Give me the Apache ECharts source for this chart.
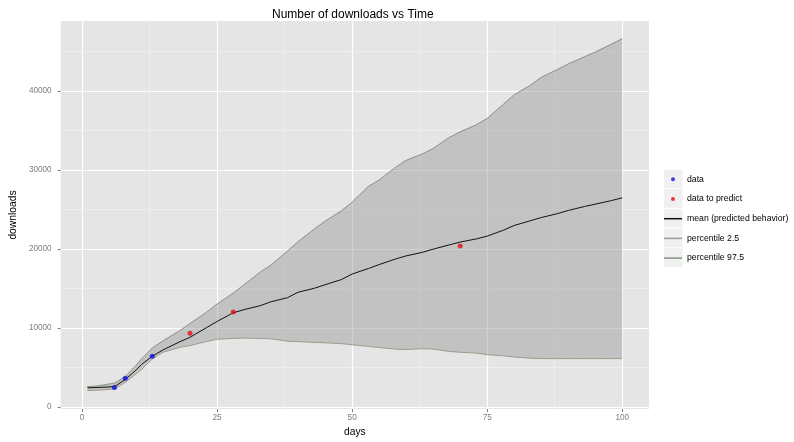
<!DOCTYPE html>
<html><head><meta charset="utf-8">
<script src="https://cdn.jsdelivr.net/npm/echarts@6/dist/echarts.min.js"></script>
<style>html,body{margin:0;padding:0;background:#fff}#c{width:794px;height:442px}</style>
</head><body><div id="c"></div>
<script>
const days    = [1,3,6,8,10,11,13,15,18,20,23,25,28,30,33,35,38,40,43,45,48,50,53,55,58,60,63,65,68,70,73,75,78,80,83,85,88,90,93,95,98,100];
const meanVals= [2400,2450,2550,3450,4650,5350,6400,7200,8200,8800,10000,10800,11900,12300,12800,13300,13800,14500,15000,15450,16100,16800,17500,18000,18700,19100,19550,19950,20500,20850,21250,21600,22350,22950,23550,23950,24450,24850,25350,25650,26100,26450];
const p025    = [2050,2100,2250,3100,4150,4700,6050,6900,7500,7750,8250,8550,8650,8700,8650,8600,8300,8250,8150,8100,8000,7850,7650,7500,7300,7250,7350,7300,7000,6900,6800,6600,6450,6300,6150,6100,6100,6100,6100,6100,6100,6100];
const p975    = [2550,2650,3000,3800,5250,6050,7450,8350,9600,10550,11950,13000,14400,15450,17050,17950,19700,20900,22500,23500,24800,25900,27900,28700,30300,31200,32000,32700,34100,34800,35700,36500,38300,39500,40700,41700,42700,43400,44300,44900,45900,46600];
const dataDays = [6,8,13];
const dataVals = [2450,3600,6400];
const predDays = [20,28,70];
const predVals = [9300,12000,20350];
const xTicks = [0,25,50,75,100];
const xMinor = [12.5,37.5,62.5,87.5];
const yTicks = [0,10000,20000,30000,40000];
const yMinor = [5000,15000,25000,35000,45000];
const legendNames = ['data','data to predict','mean (predicted behavior)','percentile 2.5','percentile 97.5'];

const xMin=-3.95, xMax=104.95, yMin=-280, yMax=48830;
const FONT='"Liberation Sans", Arial, sans-serif';
const pair=(xs,ys)=>xs.map((x,i)=>[x,ys[i]]);
const chart = echarts.init(document.getElementById('c'));
const lineIcon='path://M0,0H36V3H0Z';
const keyRects = legendNames.map((n,i)=>({type:'rect', z:0, shape:{x:664,y:169.5+i*19.7,width:18.5,height:18.7}, style:{fill:'#f0f0f0'}}));

const option = {
  animation:false,
  backgroundColor:'#ffffff',
  textStyle:{fontFamily:FONT},
  title:{text:'Number of downloads vs Time', left:267, top:4, textStyle:{fontSize:12, fontWeight:'normal', color:'#000', fontFamily:FONT}},
  graphic: keyRects,
  grid:{left:55.5, top:21, width:593.5, height:390, show:true, backgroundColor:'#e5e5e5', borderWidth:0},
  legend:{orient:'vertical', left:664, top:173.3, padding:0, itemWidth:18, itemHeight:4, itemGap:7.7, selectedMode:false,
    textStyle:{fontSize:8.7, color:'#000', lineHeight:12, fontFamily:FONT},
    data:[{name:legendNames[0],icon:'circle'},{name:legendNames[1],icon:'circle'},{name:legendNames[2],icon:lineIcon},{name:legendNames[3],icon:lineIcon},{name:legendNames[4],icon:lineIcon}]},
  xAxis:[
    {type:'value', min:xMin, max:xMax, position:'bottom',
     axisLine:{show:false, onZero:false}, axisTick:{show:true, length:3, customValues:xTicks, lineStyle:{color:'#7f7f7f'}},
     axisLabel:{customValues:xTicks, color:'#7f7f7f', fontSize:8.2, margin:5, fontFamily:FONT, formatter:v=>String(v)},
     splitLine:{show:true, lineStyle:{color:'#ffffff', width:1.2}},
     name:'days', nameLocation:'middle', nameGap:18, nameTextStyle:{fontSize:10.3, color:'#000', fontFamily:FONT}},
    {type:'value', min:xMin, max:xMax, position:'top',
     axisLine:{show:false, onZero:false}, axisTick:{show:false, customValues:xMinor}, axisLabel:{show:false, customValues:xMinor},
     splitLine:{show:true, lineStyle:{color:'#eeeeee', width:1}}}
  ],
  yAxis:[
    {type:'value', min:yMin, max:yMax, position:'left',
     axisLine:{show:false, onZero:false}, axisTick:{show:true, length:3, customValues:yTicks, lineStyle:{color:'#7f7f7f'}},
     axisLabel:{customValues:yTicks, color:'#7f7f7f', fontSize:8.2, margin:9, fontFamily:FONT, formatter:v=>String(v)},
     splitLine:{show:true, lineStyle:{color:'#ffffff', width:1.2}},
     name:'downloads', nameLocation:'middle', nameGap:28, nameRotate:90, nameTextStyle:{fontSize:10.3, color:'#000', fontFamily:FONT}},
    {type:'value', min:yMin, max:yMax, position:'right',
     axisLine:{show:false, onZero:false}, axisTick:{show:false, customValues:yMinor}, axisLabel:{show:false, customValues:yMinor},
     splitLine:{show:true, lineStyle:{color:'#eeeeee', width:1}}}
  ],
  series:[
    {type:'custom', name:'band', xAxisIndex:0, yAxisIndex:0, silent:true, z:1,
     data: days.map((d,i)=>[d,p025[i],p975[i]]), encode:{x:0, y:[1,2]},
     renderItem:(params, api)=>{
       if(params.dataIndex!==0) return;
       const top=days.map((d,i)=>api.coord([d,p975[i]]));
       const bot=days.map((d,i)=>api.coord([d,p025[i]])).reverse();
       return {type:'polygon', shape:{points:top.concat(bot)}, style:{fill:'rgba(153,153,153,0.46)'}};
     }},
    {type:'line', name:'percentile 2.5', data:pair(days,p025), symbol:'none', showSymbol:false, z:2, color:'#a09a8c', lineStyle:{color:'#a09a8c', width:1}},
    {type:'line', name:'percentile 97.5', data:pair(days,p975), symbol:'none', showSymbol:false, z:2, color:'#80977c', lineStyle:{color:'#80977c', width:1}},
    {type:'line', name:'mean (predicted behavior)', data:pair(days,meanVals), symbol:'none', showSymbol:false, z:3, color:'#111111', lineStyle:{color:'#111111', width:1}},
    {type:'scatter', name:'data', data:pair(dataDays,dataVals), symbolSize:5, z:4, color:'#1010e0', itemStyle:{color:'#1010e0'}},
    {type:'scatter', name:'data to predict', data:pair(predDays,predVals), symbolSize:5, z:4, color:'#e01010', itemStyle:{color:'#e01010'}}
  ]
};
chart.setOption(option);
</script></body></html>
